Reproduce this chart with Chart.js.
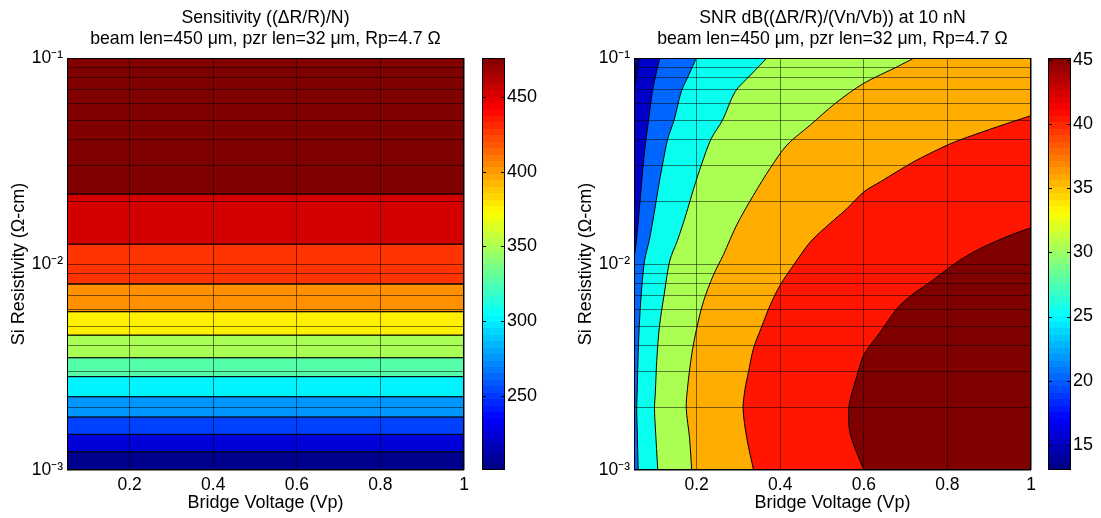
<!DOCTYPE html>
<html><head><meta charset="utf-8">
<script src="https://cdn.jsdelivr.net/npm/chart.js@4.4.1/dist/chart.umd.min.js"></script>
<style>
html,body{margin:0;padding:0;background:#fff;width:1101px;height:518px;overflow:hidden;position:relative;}
canvas{position:absolute;top:0;}
</style></head><body>
<canvas id="sens" width="480" height="518" style="left:0px"></canvas>
<canvas id="sensBar" width="71" height="518" style="left:474px"></canvas>
<canvas id="snr" width="480" height="518" style="left:567px"></canvas>
<canvas id="snrBar" width="71" height="518" style="left:1040px"></canvas>
<script>
// ---------------- data ----------------
const voltageRange = [0.05, 1.0];
const rhoRange = [0.001, 0.1];
const xTickValues = [0.2, 0.4, 0.6, 0.8, 1.0];
const xTickLabels = ['0.2', '0.4', '0.6', '0.8', '1'];
const yTickValues = [0.001,0.002,0.003,0.004,0.005,0.006,0.007,0.008,0.009,
                     0.01,0.02,0.03,0.04,0.05,0.06,0.07,0.08,0.09,0.1];
const yMajorValues = [0.001, 0.01, 0.1];
const yMajorLabels = ['10\u207B\u00B3', '10\u207B\u00B2', '10\u207B\u00B9'];

// Sensitivity contour levels and resistivity where each level is crossed
const sensRange = [200.8, 475.8];
const sensTickValues = [250, 300, 350, 400, 450];
const sensLevels = [225, 250, 275, 300, 325, 350, 375, 400, 425, 450, 475];
const sensLevelRho = [0.001227, 0.00149, 0.00181, 0.00227, 0.00284, 0.00351,
                      0.00452, 0.00587, 0.00800, 0.01250, 0.02188];

// SNR contour lines (voltage, resistivity), from high to low resistivity
const snrRange = [13.03, 45.16];
const snrTickValues = [15, 20, 25, 30, 35, 40, 45];
const snrLevels = [15, 20, 25, 30, 35, 40, 45];
const snr15V   = [0.0627, 0.056, 0.05];
const snr15Rho = [0.1, 0.0827, 0.068];
const snr20V   = [0.112, 0.102, 0.094, 0.085, 0.079, 0.072, 0.067, 0.0615, 0.056, 0.05];
const snr20Rho = [0.1, 0.0827, 0.0686, 0.05, 0.0407, 0.0302, 0.0233, 0.0173, 0.013, 0.0103];
const snr25V   = [0.199, 0.181, 0.163, 0.146, 0.131, 0.118, 0.108, 0.0975, 0.0865, 0.0755, 0.0675, 0.0625, 0.0595, 0.0575, 0.0565, 0.0575, 0.0600];
const snr25Rho = [0.1, 0.0827, 0.0686, 0.05, 0.0407, 0.0302, 0.0233, 0.0173, 0.013, 0.01046, 0.00723, 0.00494, 0.00341, 0.00236, 0.00199, 0.00162, 0.001];
const snr30V   = [0.368, 0.329, 0.292, 0.262, 0.235, 0.211, 0.193, 0.174, 0.154, 0.136, 0.1227, 0.1107, 0.1045, 0.101, 0.099, 0.101, 0.1069];
const snr30Rho = [0.1, 0.0827, 0.0686, 0.05, 0.0407, 0.0302, 0.0233, 0.0173, 0.013, 0.01046, 0.00723, 0.00494, 0.00341, 0.00236, 0.00199, 0.00162, 0.001];
const snr35V   = [0.720, 0.680, 0.600, 0.532, 0.472, 0.416, 0.376, 0.336, 0.296, 0.264, 0.240, 0.216, 0.200, 0.188, 0.178, 0.175, 0.183, 0.188];
const snr35Rho = [0.1, 0.0907, 0.0754, 0.0603, 0.0473, 0.0378, 0.0292, 0.0216, 0.0155, 0.0111, 0.00884, 0.00656, 0.00487, 0.00362, 0.00249, 0.00199, 0.001425, 0.001];
const snr40V   = [1.0, 0.920, 0.840, 0.800, 0.720, 0.640, 0.600, 0.560, 0.520, 0.472, 0.432, 0.400, 0.376, 0.354, 0.336, 0.324, 0.316, 0.311, 0.320, 0.336];
const snr40Rho = [0.0525, 0.0464, 0.0407, 0.0378, 0.0314, 0.0251, 0.0224, 0.0186, 0.0158, 0.0128, 0.00989, 0.00791, 0.00632, 0.00487, 0.00390, 0.00300, 0.00249, 0.00199, 0.001425, 0.001];
const snr45V   = [1.0, 0.952, 0.880, 0.824, 0.760, 0.720, 0.680, 0.640, 0.600, 0.584, 0.564, 0.568, 0.600];
const snr45Rho = [0.0150, 0.01383, 0.01192, 0.01026, 0.00820, 0.00721, 0.00610, 0.00469, 0.00362, 0.00289, 0.00201, 0.001479, 0.001];

// ---------------- styles ----------------
const sensBandColors = ['#00008F','#0000D8','#0040FF','#0096FF','#00F4FF','#55FFAA',
                        '#AAFF55','#FFF000','#FF9000','#FF3400','#D40000','#800000'];
const snrBaseColor = '#00008E';
const snrLevelColors = ['#0000C8','#0066FF','#08FFF0','#AAFF52','#FFAD00','#FF1500','#800000'];
const FONT = "'Liberation Sans', Arial, Helvetica, sans-serif";
const GRID = 'rgba(0,0,0,0.5)';

Chart.defaults.font.family = FONT;
Chart.defaults.font.size = 17.5;
Chart.defaults.color = '#000';

// ---------------- helpers ----------------
function zip(vs, rs) { return vs.map((v, i) => ({ x: v, y: rs[i] })); }

// contour line: region of higher SNR lies toward the high-voltage side -> fill to right edge
function contourDataset(line, color, order) {
  const pts = line.slice();
  const last = pts[pts.length - 1];
  // a line that leaves through the left edge continues down the left edge
  if (Math.abs(last.x - voltageRange[0]) < 1e-9 && last.y > rhoRange[0]) {
    pts.push({ x: voltageRange[0], y: rhoRange[0] });
  }
  return { data: pts, indexAxis: 'y', showLine: true, fill: { value: voltageRange[1] },
           backgroundColor: color, borderColor: '#000', borderWidth: 1,
           pointRadius: 0, pointHoverRadius: 0, tension: 0.3, order: order };
}
function shapeDataset(points, color, order, border) {
  return { data: points, showLine: true, fill: 'shape', backgroundColor: color,
           borderColor: '#000', borderWidth: border, pointRadius: 0, pointHoverRadius: 0,
           tension: 0, order: order };
}

const framePlugin = {
  id: 'frame',
  afterDraw(chart) {
    const { ctx, chartArea: a } = chart;
    ctx.save();
    ctx.strokeStyle = '#000'; ctx.lineWidth = 1;
    ctx.strokeRect(Math.round(a.left) + 0.5, Math.round(a.top) + 0.5,
                   Math.round(a.right - a.left) - 1, Math.round(a.bottom - a.top) - 1);
    ctx.restore();
  }
};
const cbarTickPlugin = {
  id: 'cbarTicks',
  afterDraw(chart) {
    const { ctx, chartArea: a } = chart; const sc = chart.scales.y;
    ctx.save(); ctx.strokeStyle = '#000'; ctx.lineWidth = 1;
    sc.ticks.forEach(t => {
      const y = Math.round(sc.getPixelForValue(t.value)) + 0.5;
      ctx.beginPath();
      ctx.moveTo(a.left, y); ctx.lineTo(a.left + 4, y);
      ctx.moveTo(a.right - 4, y); ctx.lineTo(a.right, y);
      ctx.stroke();
    });
    ctx.restore();
  }
};

function mainConfig(titleLines, datasets) {
  return {
    type: 'scatter',
    data: { datasets },
    options: {
      responsive: false, animation: false, devicePixelRatio: 1,
      layout: { padding: { left: 0, right: 16, top: 0, bottom: 0 } },
      plugins: {
        legend: { display: false }, tooltip: { enabled: false },
        title: { display: true, fullSize: false, text: titleLines, color: '#000',
                 font: { size: 17.7, weight: 'normal', lineHeight: '21.7px' },
                 padding: { top: 6.8, bottom: 7.8 } }
      },
      scales: {
        x: {
          type: 'linear', min: voltageRange[0], max: voltageRange[1],
          afterBuildTicks: s => { s.ticks = xTickValues.map(v => ({ value: v })); },
          afterFit: s => { s.height = 48; },
          ticks: { autoSkip: false, maxRotation: 0, padding: 4.5,
                   callback: v => xTickLabels[xTickValues.indexOf(v)] },
          grid: { z: 1, color: GRID, lineWidth: 1, drawTicks: false },
          border: { display: false },
          title: { display: true, text: 'Bridge Voltage (Vp)', font: { size: 18 }, padding: { top: 0, bottom: 4 } }
        },
        y: {
          type: 'logarithmic', min: rhoRange[0], max: rhoRange[1],
          afterBuildTicks: s => { s.ticks = yTickValues.map(v => ({ value: v })); },
          afterFit: s => { s.width = 67; },
          ticks: { autoSkip: false, padding: 4,
                   callback: v => { const i = yMajorValues.findIndex(m => Math.abs(m - v) < 1e-12); return i >= 0 ? yMajorLabels[i] : ''; } },
          grid: { z: 1, color: GRID, lineWidth: 1, drawTicks: false },
          border: { display: false },
          title: { display: true, text: 'Si Resistivity (\u03A9-cm)', font: { size: 18 }, padding: { top: 8.5, bottom: 0 } }
        }
      }
    },
    plugins: [framePlugin]
  };
}

function jetColor(t) {
  const c = v => Math.max(0, Math.min(1, v));
  const r = c(1.5 - Math.abs(4 * t - 3)), g = c(1.5 - Math.abs(4 * t - 2)), b = c(1.5 - Math.abs(4 * t - 1));
  return 'rgb(' + Math.round(r * 255) + ',' + Math.round(g * 255) + ',' + Math.round(b * 255) + ')';
}
function jetGradient(chart) {
  const a = chart.chartArea; if (!a) return '#888';
  const g = chart.ctx.createLinearGradient(0, a.bottom, 0, a.top);
  const n = 64;
  for (let i = 0; i < n; i++) {
    const col = jetColor((i + 0.5) / n);
    g.addColorStop(i / n, col); g.addColorStop((i + 1) / n, col);
  }
  return g;
}
function colorbarConfig(range, tickValues) {
  return {
    type: 'bar',
    data: { labels: [''], datasets: [{ data: [[range[0], range[1]]],
      backgroundColor: ctx => jetGradient(ctx.chart), borderWidth: 0,
      barPercentage: 1, categoryPercentage: 1 }] },
    options: {
      responsive: false, animation: false, devicePixelRatio: 1,
      layout: { padding: { left: 8, right: 0, top: 58, bottom: 48 } },
      plugins: { legend: { display: false }, tooltip: { enabled: false }, title: { display: false } },
      scales: {
        x: { display: false },
        y: { position: 'right', min: range[0], max: range[1],
             afterBuildTicks: s => { s.ticks = tickValues.map(v => ({ value: v })); },
             afterFit: s => { s.width = 40; },
             ticks: { autoSkip: false, padding: 2, font: { size: 18 } },
             grid: { display: false, drawTicks: false },
             border: { display: false } }
      }
    },
    plugins: [framePlugin, cbarTickPlugin]
  };
}

// ---------------- sensitivity plot ----------------
const sensEdges = [rhoRange[0]].concat(sensLevelRho, [rhoRange[1]]);
const sensDatasets = sensBandColors.map((col, i) => shapeDataset([
  { x: voltageRange[0], y: sensEdges[i] }, { x: voltageRange[1], y: sensEdges[i] },
  { x: voltageRange[1], y: sensEdges[i + 1] }, { x: voltageRange[0], y: sensEdges[i + 1] },
  { x: voltageRange[0], y: sensEdges[i] }
], col, -i, 1));
new Chart(document.getElementById('sens'), mainConfig(
  ['Sensitivity ((\u0394R/R)/N)', 'beam len=450 \u03BCm, pzr len=32 \u03BCm, Rp=4.7 \u03A9'], sensDatasets));
new Chart(document.getElementById('sensBar'), colorbarConfig(sensRange, sensTickValues));

// ---------------- SNR plot ----------------
const snrLines = [zip(snr15V, snr15Rho), zip(snr20V, snr20Rho), zip(snr25V, snr25Rho),
                  zip(snr30V, snr30Rho), zip(snr35V, snr35Rho), zip(snr40V, snr40Rho), zip(snr45V, snr45Rho)];
const snrDatasets = [shapeDataset([
  { x: voltageRange[0], y: rhoRange[0] }, { x: voltageRange[1], y: rhoRange[0] },
  { x: voltageRange[1], y: rhoRange[1] }, { x: voltageRange[0], y: rhoRange[1] },
  { x: voltageRange[0], y: rhoRange[0] }], snrBaseColor, 0, 0)];
snrLevels.forEach((lev, i) => {
  snrDatasets.push(contourDataset(snrLines[i], snrLevelColors[i], -(i + 1)));
});
new Chart(document.getElementById('snr'), mainConfig(
  ['SNR dB((\u0394R/R)/(Vn/Vb)) at 10 nN', 'beam len=450 \u03BCm, pzr len=32 \u03BCm, Rp=4.7 \u03A9'], snrDatasets));
new Chart(document.getElementById('snrBar'), colorbarConfig(snrRange, snrTickValues));
</script>
</body></html>
